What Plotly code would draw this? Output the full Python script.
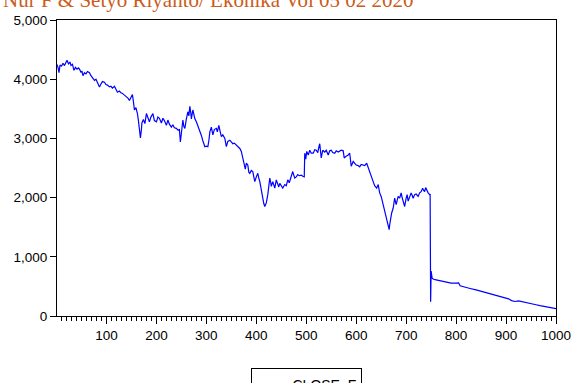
import plotly.graph_objects as go

obs = [1,3,5,7,10,13,16,19,21,24,27,29,32,35,38,41,44,46,49,51,53,56,59,62,66,69,72,76,79,82,86,89,92,96,99,
       102,106,109,112,116,119,122,126,129,132,135,138,140,143,146,149,152,154,156,159,162,164,166,168,170,171,174,177,180,183,186,189,193,196,200,
       203,206,210,213,216,220,223,226,230,233,236,240,243,246,248,250,253,255,257,260,263,265,267,269,270,273,275,277,280,283,286,290,293,297,300,
       303,305,307,310,313,316,320,322,325,327,330,333,337,340,343,347,350,353,356,360,363,367,370,373,376,378,380,383,385,387,390,393,395,397,400,
       403,405,407,410,413,415,417,419,420,423,425,427,429,430,433,435,437,440,443,445,447,450,453,457,460,463,466,470,473,475,477,480,483,486,490,493,496,497,499,
       501,504,507,510,514,517,520,523,526,527,530,533,537,540,544,547,550,553,557,560,564,567,570,574,576,580,584,587,590,594,597,600,
       604,607,610,614,617,621,624,627,631,634,637,641,644,647,650,654,657,660,662,664,666,667,669,671,674,677,680,682,684,687,690,692,694,697,700,
       702,704,707,710,712,714,717,720,724,727,730,733,735,737,739,741,744,747,748,749,750,751,752,755,760,770,780,790,800,
       805,808,815,828,840,854,865,874,885,894,905,911,918,925,935,948,960,968,980,990,1000]

close_f = [4250,4200,4110,4240,4220,4270,4230,4300,4320,4260,4290,4230,4250,4150,4200,4170,4190,4170,4120,4130,4060,4110,4090,4130,4110,4060,4020,3980,4000,3940,3870,3920,3960,3950,3910,
           3900,3870,3880,3850,3880,3830,3780,3800,3770,3760,3740,3720,3700,3680,3640,3690,3740,3620,3480,3520,3420,3300,3140,3010,3150,3260,3320,3250,3420,3330,3280,3360,3420,3300,3280,
           3360,3340,3260,3340,3300,3220,3310,3240,3190,3230,3180,3170,3140,3150,2940,3140,3310,3200,3170,3330,3450,3380,3540,3420,3330,3480,3400,3330,3280,3220,3160,3050,2960,2860,2870,
           2860,2960,3110,3190,3060,3150,3170,3110,3220,3140,3030,3060,3000,2860,2950,2970,2930,2910,2920,2890,2860,2830,2780,2660,2600,2480,2580,2550,2430,2410,2460,2440,2350,2270,2350,
           2410,2330,2270,2130,1960,1900,1850,1880,1910,2050,2200,2330,2250,2190,2270,2230,2160,2300,2220,2180,2240,2190,2160,2220,2200,2300,2250,2360,2440,2380,2330,2350,2390,2370,2380,2360,2350,2750,2650,
           2780,2720,2800,2750,2750,2810,2800,2760,2880,2910,2670,2800,2770,2800,2720,2790,2800,2760,2750,2790,2770,2780,2800,2790,2670,2700,2720,2750,2530,2610,2570,2550,
           2540,2520,2560,2550,2540,2580,2500,2420,2330,2270,2200,2160,2220,2080,2020,1880,1770,1630,1560,1490,1460,1540,1650,1740,1820,1990,1880,1960,2020,1990,2080,2000,1940,1850,1990,
           2050,1940,2020,2080,2040,1990,2050,2060,2020,2080,2100,2160,2120,2100,2170,2130,2080,2050,2060,240,760,700,640,620,610,590,570,555,555,
           560,510,490,465,440,410,385,365,335,315,290,260,245,255,240,215,190,175,155,140,125]

x_tickvals = [100, 200, 300, 400, 500, 600, 700, 800, 900, 1000]
y_tickvals = [0, 1000, 2000, 3000, 4000, 5000]
header_text = "Nur F & Setyo Riyanto/ Ekonika Vol 05 02 2020"

fig = go.Figure()
fig.add_trace(go.Scatter(x=obs, y=close_f, mode="lines", name="CLOSE_F",
                         line=dict(color="#0000FF", width=1.2)))

fig.update_layout(
    width=572, height=383, autosize=False,
    margin=dict(l=57, r=16, t=20, b=67, autoexpand=False),
    paper_bgcolor="white", plot_bgcolor="white",
    font=dict(family="Liberation Sans, Arial, sans-serif", size=13.5, color="black"),
    showlegend=True,
    legend=dict(orientation="h", x=0.501, xanchor="center", y=-0.175, yanchor="top",
                bordercolor="black", borderwidth=1, bgcolor="white",
                font=dict(size=14), itemwidth=30),
    annotations=[dict(text=header_text, xref="paper", yref="paper",
                      x=-0.112, y=1.02, xanchor="left", yanchor="bottom", showarrow=False,
                      font=dict(family="Liberation Serif, Times New Roman, serif", size=21, color="#CC5B1A"))],
)
fig.update_xaxes(range=[1, 1000], tickvals=x_tickvals, ticks="outside", ticklen=7, tickcolor="black",
                 showline=True, linecolor="black", linewidth=1, mirror=True, showgrid=False, zeroline=False,
                 minor=dict(dtick=10, tick0=0, ticks="outside", ticklen=4, tickcolor="black", showgrid=False))
fig.update_yaxes(range=[0, 5000], tickvals=y_tickvals, tickformat=",", ticks="outside", ticklen=6, tickcolor="black",
                 showline=True, linecolor="black", linewidth=1, mirror=True, showgrid=False, zeroline=False)

fig.write_html("out.html", config={"displayModeBar": False},
               post_script="document.body.style.margin='0';document.body.style.overflow='hidden';")
